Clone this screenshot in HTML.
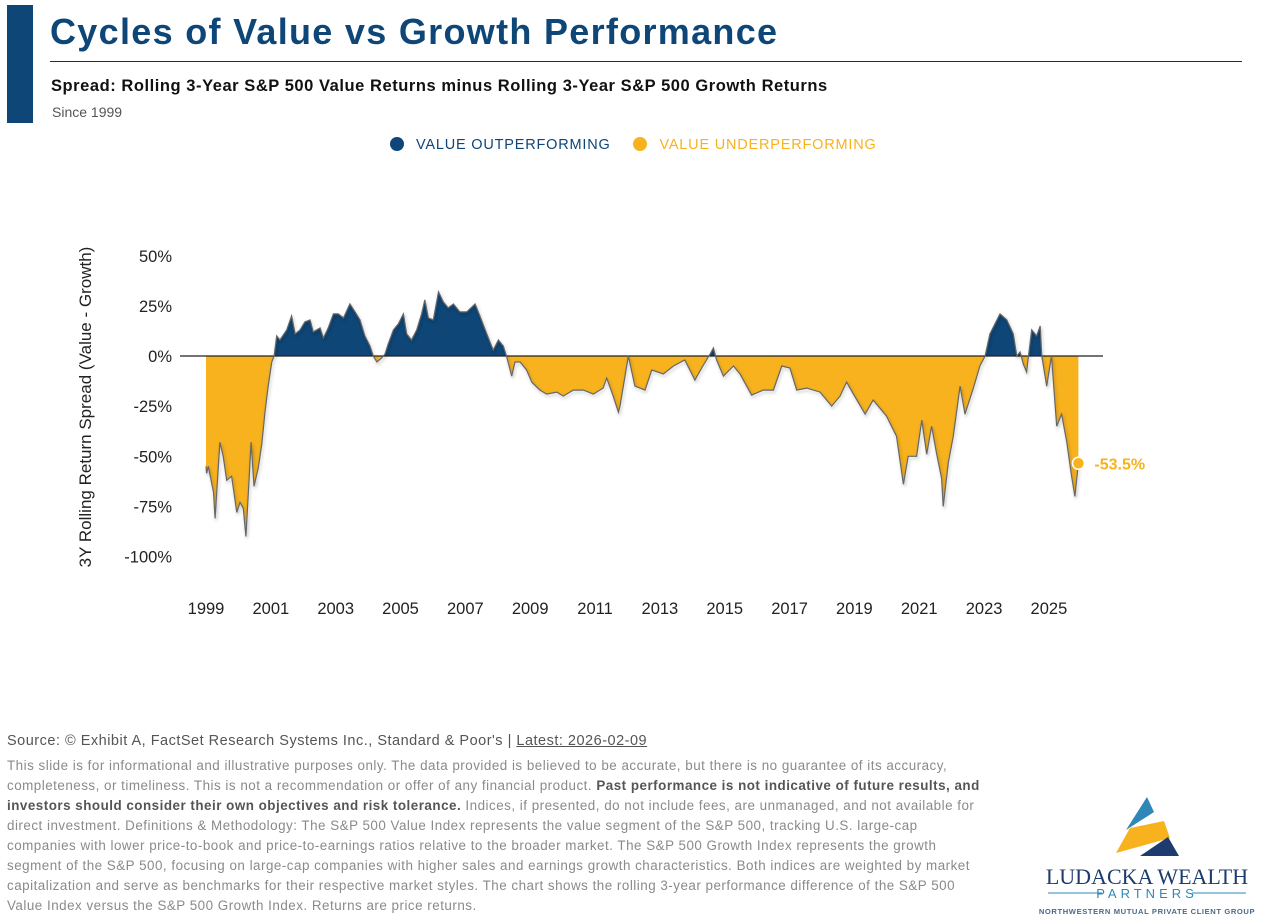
<!DOCTYPE html>
<html><head><meta charset="utf-8"><style>
body{margin:0;width:1270px;height:921px;background:#fff;font-family:"Liberation Sans",sans-serif;position:relative;overflow:hidden}
.abs{position:absolute}
</style></head><body>
<div class="abs" style="left:7px;top:5px;width:26px;height:118px;background:#0d4677"></div>
<div class="abs" style="left:50px;top:11px;font-size:36px;font-weight:bold;color:#0d4677;letter-spacing:1.3px">Cycles of Value vs Growth Performance</div>
<div class="abs" style="left:50px;top:61px;width:1192px;height:1px;background:#1b2f45"></div>
<div class="abs" style="left:51px;top:77px;font-size:16.5px;font-weight:bold;color:#111;letter-spacing:0.55px">Spread: Rolling 3-Year S&amp;P 500 Value Returns minus Rolling 3-Year S&amp;P 500 Growth Returns</div>
<div class="abs" style="left:52px;top:104px;font-size:14px;color:#555">Since 1999</div>
<div class="abs" style="left:390px;top:137px;font-size:14.5px;letter-spacing:0.8px">
 <span style="color:#0d4677"><span style="display:inline-block;width:14px;height:14px;border-radius:50%;background:#0d4677;vertical-align:-2px;margin-right:12px"></span>VALUE OUTPERFORMING</span>
 <span style="color:#f7b21e;margin-left:18px"><span style="display:inline-block;width:14px;height:14px;border-radius:50%;background:#f7b21e;vertical-align:-2px;margin-right:12px"></span>VALUE UNDERPERFORMING</span>
</div>
<svg id="chart" class="abs" style="left:0;top:0" width="1270" height="700">
 <defs>
  <clipPath id="above"><rect x="0" y="0" width="1270" height="356"/></clipPath>
  <clipPath id="below"><rect x="0" y="356" width="1270" height="400"/></clipPath>
  <filter id="sh" x="-5%" y="-5%" width="110%" height="110%"><feDropShadow dx="1" dy="2" stdDeviation="1.5" flood-color="#000" flood-opacity="0.3"/></filter>
 </defs>
 <g id="g"></g>
</svg>
<div class="abs" style="left:7px;top:733px;font-size:14.5px;color:#555;letter-spacing:0.5px">Source: © Exhibit A, FactSet Research Systems Inc., Standard &amp; Poor's | <span style="text-decoration:underline">Latest: 2026-02-09</span></div>
<div class="abs" style="left:7px;top:756px;white-space:nowrap;font-size:13.4px;line-height:20px;color:#8a8a8a;letter-spacing:0.5px">This slide is for informational and illustrative purposes only. The data provided is believed to be accurate, but there is no guarantee of its accuracy,<br>completeness, or timeliness. This is not a recommendation or offer of any financial product. <b style="color:#555">Past performance is not indicative of future results, and</b><br><b style="color:#555">investors should consider their own objectives and risk tolerance.</b> Indices, if presented, do not include fees, are unmanaged, and not available for<br>direct investment. Definitions &amp; Methodology: The S&amp;P 500 Value Index represents the value segment of the S&amp;P 500, tracking U.S. large-cap<br>companies with lower price-to-book and price-to-earnings ratios relative to the broader market. The S&amp;P 500 Growth Index represents the growth<br>segment of the S&amp;P 500, focusing on large-cap companies with higher sales and earnings growth characteristics. Both indices are weighted by market<br>capitalization and serve as benchmarks for their respective market styles. The chart shows the rolling 3-year performance difference of the S&amp;P 500<br>Value Index versus the S&amp;P 500 Growth Index. Returns are price returns.</div>
<svg class="abs" style="left:1020px;top:790px" width="250" height="131">
 <polygon points="127,7 134,22 106,40" fill="#2f87b8"/>
 <polygon points="96,63 110,38 144,31 150,48" fill="#f7b21e"/>
 <polygon points="120,66 148,47 159,66" fill="#1d3b6e"/>
 <text x="127" y="94" text-anchor="middle" font-family="Liberation Serif,serif" font-size="22" fill="#1d3b6e">LUDACKA WEALTH</text>
 <line x1="28" y1="103" x2="82" y2="103" stroke="#2f87b8"/><line x1="172" y1="103" x2="226" y2="103" stroke="#2f87b8"/>
 <text x="127" y="108" text-anchor="middle" font-size="13" letter-spacing="4" fill="#2f87b8">PARTNERS</text>
 <text x="127" y="124" text-anchor="middle" font-size="7.6" font-weight="bold" letter-spacing="0.6" fill="#4a6a8a">NORTHWESTERN MUTUAL PRIVATE CLIENT GROUP</text>
</svg>
<script>
const dates=[1999.00,1999.02,1999.07,1999.23,1999.28,1999.43,1999.53,1999.64,1999.79,1999.95,2000.05,2000.15,2000.23,2000.31,2000.39,2000.48,2000.61,2000.72,2000.82,2000.92,2001.03,2001.10,2001.18,2001.28,2001.49,2001.64,2001.75,2001.90,2002.05,2002.21,2002.31,2002.52,2002.62,2002.77,2002.93,2003.08,2003.24,2003.44,2003.60,2003.75,2003.90,2004.06,2004.16,2004.27,2004.42,2004.52,2004.62,2004.78,2004.93,2005.09,2005.19,2005.34,2005.50,2005.65,2005.75,2005.86,2006.01,2006.17,2006.32,2006.47,2006.63,2006.83,2007.04,2007.30,2007.45,2007.66,2007.86,2008.02,2008.17,2008.27,2008.43,2008.53,2008.69,2008.89,2009.05,2009.30,2009.51,2009.82,2010.02,2010.33,2010.64,2010.95,2011.25,2011.36,2011.56,2011.72,2011.77,2012.03,2012.23,2012.54,2012.75,2013.11,2013.42,2013.77,2014.08,2014.29,2014.55,2014.65,2014.75,2014.96,2015.27,2015.47,2015.83,2016.19,2016.50,2016.76,2017.01,2017.22,2017.53,2017.94,2018.30,2018.56,2018.76,2018.97,2019.33,2019.58,2019.99,2020.30,2020.51,2020.66,2020.92,2021.08,2021.23,2021.38,2021.54,2021.69,2021.74,2021.90,2022.05,2022.26,2022.41,2022.67,2022.87,2023.03,2023.18,2023.49,2023.70,2023.90,2024.01,2024.11,2024.21,2024.31,2024.37,2024.47,2024.62,2024.73,2024.78,2024.93,2025.08,2025.24,2025.39,2025.55,2025.70,2025.80,2025.91];
const spread=[-55,-58.5,-55,-68,-81,-43,-50,-62,-60,-78,-73,-76,-90,-67,-43,-65,-56,-44,-28,-15,-3,0,10,8,13,20,11,13,17,18,12,14,9,14,21,21,19,26,22,18,10,5,0,-3,-1,1,6,13,16,21,11,8,13,21,28,19,18,32,27,24,26,22,22,26,20,11,3,8,5,0,-10,-3,-3,-7,-13,-17,-19,-18,-20,-17,-17,-19,-16,-11,-20,-28,-25,0,-15,-17,-7,-9,-5,-2,-12,-6,1,4,-2,-10,-5,-9,-19.5,-17,-17,-5,-6,-17,-16,-18,-25,-20,-13,-19,-29,-22,-30,-40,-64,-50,-50,-32,-49,-35,-49,-61,-75,-53,-40,-15,-29,-16,-5,0,11,21,18,11,0,2,-4,-8,0,13,10,15,0,-15,0,-35,-29,-43,-60,-70,-53.5];
const yTicks=[50,25,0,-25,-50,-75,-100];
const xTicks=[1999,2001,2003,2005,2007,2009,2011,2013,2015,2017,2019,2021,2023,2025];
const lastLabel="-53.5%";
const X=d=>206+(d-1999)*32.42;
const Y=v=>356-v*2.005;
const NS="http://www.w3.org/2000/svg";
const g=document.getElementById('g');
function mk(t,a){const e=document.createElementNS(NS,t);for(const k in a)e.setAttribute(k,a[k]);g.appendChild(e);return e;}
yTicks.forEach(v=>{const t=mk('text',{x:172,y:Y(v)+6,'text-anchor':'end','font-size':16.5,fill:'#222'});t.textContent=v+'%';

});
xTicks.forEach(d=>{const t=mk('text',{x:X(d),y:614,'text-anchor':'middle','font-size':16.5,fill:'#222'});t.textContent=d;

});
const yt=mk('text',{x:0,y:0,transform:'translate(91,407) rotate(-90)','text-anchor':'middle','font-size':17,fill:'#222'});yt.textContent='3Y Rolling Return Spread (Value - Growth)';


let line='';dates.forEach((d,i)=>{line+=(i?'L':'M')+X(d).toFixed(1)+','+Y(spread[i]).toFixed(1);});
const area=line+'L'+X(dates[dates.length-1]).toFixed(1)+','+Y(0)+'L'+X(dates[0]).toFixed(1)+','+Y(0)+'Z';
const up=mk('path',{d:area,fill:'#0d4677','clip-path':'url(#above)'});


const dn=mk('path',{d:area,fill:'#f7b21e','clip-path':'url(#below)'});


const zl=mk('line',{x1:180,x2:1103,y1:Y(0),y2:Y(0),stroke:'#222','stroke-width':1.2});


const ol=mk('path',{d:line,fill:'none',stroke:'#666','stroke-width':1.2,filter:'url(#sh)'});


const li=dates.length-1;
const dot=mk('circle',{cx:X(dates[li]),cy:Y(spread[li]),r:6,fill:'#f7b21e',stroke:'#fff','stroke-width':1.5});


const lt=mk('text',{x:X(dates[li])+16,y:Y(spread[li])+6,'font-size':16,'font-weight':'bold',fill:'#f7b21e'});lt.textContent=lastLabel;


</script>
</body></html>
